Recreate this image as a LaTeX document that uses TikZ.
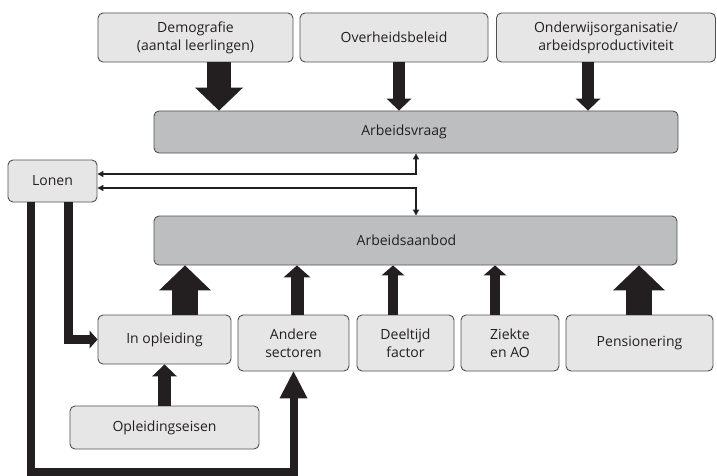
\documentclass[tikz,border=0pt]{standalone}
\usepackage{fontspec}
\setmainfont{Open Sans}
\usetikzlibrary{arrows.meta,calc}
\definecolor{lightbox}{HTML}{E6E6E6}
\definecolor{darkbox}{HTML}{BDBEC0}
\definecolor{edge}{HTML}{505050}
\definecolor{ink}{HTML}{231F20}
\begin{document}
\begin{tikzpicture}[x=1pt,y=-1pt,
  every node/.style={font=\fontsize{14}{18}\selectfont, text=ink},
  box/.style={draw=edge, line width=0.9pt, rounded corners=5pt, fill=lightbox, align=center, inner sep=0pt},
  darkbx/.style={box, fill=darkbox},
  fat/.style n args={3}{draw=ink, line width=#1, -{Triangle[length=#3, width=#2, line width=0pt]}},
  thin/.style={draw=ink, line width=1.3pt, {Triangle[length=6pt,width=6pt]}-{Triangle[length=6pt,width=6pt]}}
]
\useasboundingbox (0,0) rectangle (717,476);
% top row
\node[box, minimum width=195pt, minimum height=49pt] (demo) at (195.5,37.5) {Demografie\\(aantal leerlingen)};
\node[box, minimum width=188pt, minimum height=49pt] (over) at (394,37.5) {Overheidsbeleid};
\node[box, minimum width=219pt, minimum height=49pt] (onder) at (606,37.5) {Onderwijsorganisatie/\\arbeidsproductiviteit};
% demand / supply
\node[darkbx, minimum width=524pt, minimum height=42pt, label={[xshift=-12pt]center:Arbeidsvraag}] (vraag) at (416,132) {};
\node[darkbx, minimum width=523pt, minimum height=49pt, label={[xshift=-9pt]center:Arbeidsaanbod}] (aanbod) at (415.5,240.5) {};
\node[box, minimum width=89pt, minimum height=42pt] (lonen) at (52.5,181) {Lonen};
% bottom row
\node[box, minimum width=133pt, minimum height=49pt] (inopl) at (164.5,339.5) {In opleiding};
\node[box, minimum width=111pt, minimum height=56pt] (andere) at (293.5,343) {Andere\\sectoren};
\node[box, minimum width=97pt, minimum height=56pt] (deel) at (405.5,343) {Deeltijd\\factor};
\node[box, minimum width=98pt, minimum height=56pt] (ziekte) at (510,343) {Ziekte\\en AO};
\node[box, minimum width=147pt, minimum height=56pt] (pens) at (639.5,343) {Pensionering};
\node[box, minimum width=189pt, minimum height=43pt] (eisen) at (164.5,427.5) {Opleidingseisen};
% x positions of arrows
\coordinate (xdemo) at (219,0);
\coordinate (xover) at (399,0);
\coordinate (xonder) at (588,0);
\coordinate (xinopl) at (185,0);
\coordinate (xandere) at (297,0);
\coordinate (xdeel) at (393,0);
\coordinate (xziekte) at (495,0);
\coordinate (xpens) at (639,0);
\coordinate (xlonA) at (30.5,0);
\coordinate (xlonB) at (68,0);
\coordinate (ybot) at (0,472);
% top arrows
\draw[fat={24pt}{48pt}{23pt}] (demo.south -| xdemo) -- (vraag.north -| xdemo);
\draw[fat={12pt}{25pt}{12pt}] (over.south -| xover) -- (vraag.north -| xover);
\draw[fat={12pt}{25pt}{12pt}] (onder.south -| xonder) -- (vraag.north -| xonder);
% supply arrows
\draw[fat={26pt}{52pt}{25pt}] (inopl.north -| xinopl) -- (aanbod.south -| xinopl);
\draw[fat={13pt}{27pt}{12pt}] (andere.north -| xandere) -- (aanbod.south -| xandere);
\draw[fat={10pt}{23pt}{10pt}] (deel.north -| xdeel) -- (aanbod.south -| xdeel);
\draw[fat={10pt}{23pt}{10pt}] (ziekte.north -| xziekte) -- (aanbod.south -| xziekte);
\draw[fat={26pt}{52pt}{25pt}] (pens.north -| xpens) -- (aanbod.south -| xpens);
\draw[fat={13pt}{25pt}{12pt}] (eisen.north) -- (inopl.south);
% wage links
\coordinate (w1) at (416,174);
\coordinate (w2) at (416,188);
\draw[thin] (lonen.east |- w1) -- (w1) -- (vraag.south -| w1);
\draw[thin] (lonen.east |- w2) -- (w2) -- (aanbod.north -| w2);
% wage effects
\draw[fat={9pt}{18pt}{8pt}, line join=miter] (lonen.south -| xlonB) |- (inopl.west);
\draw[fat={8pt}{28pt}{27pt}, line join=miter] (lonen.south -| xlonA) -- (xlonA |- ybot) -- (andere.south |- ybot) -- (andere.south);
\end{tikzpicture}
\end{document}
